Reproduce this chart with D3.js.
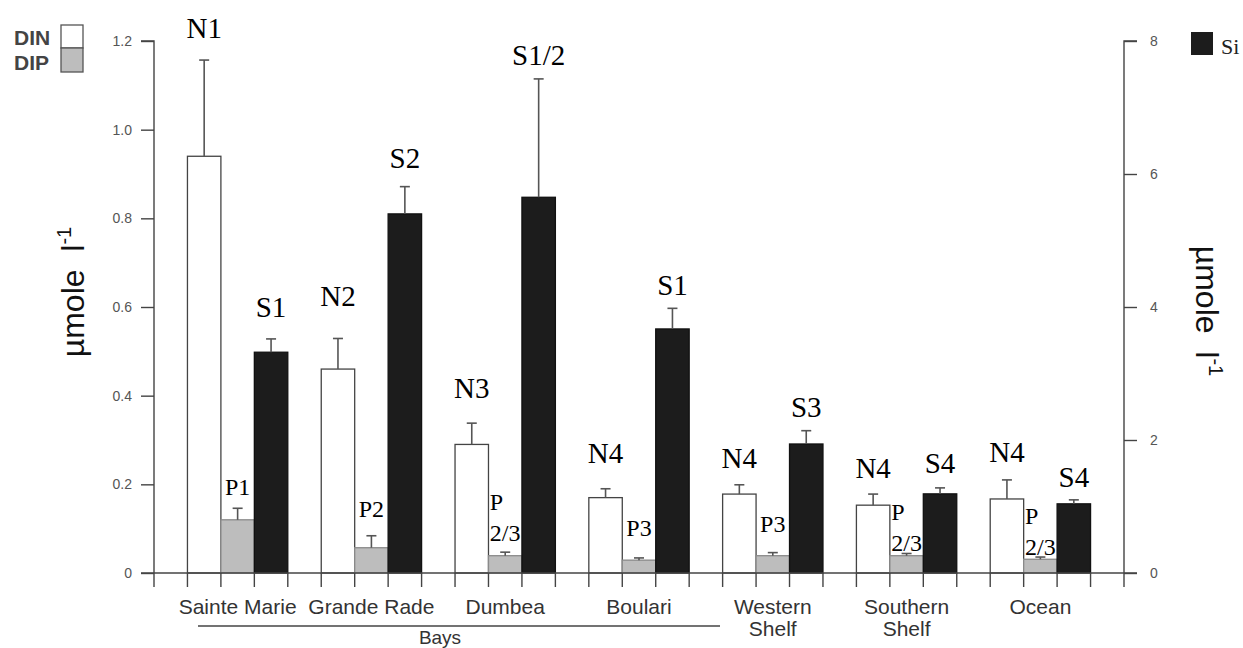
<!DOCTYPE html>
<html><head><meta charset="utf-8">
<script src="https://cdn.jsdelivr.net/npm/d3@7"></script>
<style>body{margin:0;background:#fff}svg{display:block}</style>
</head><body>
<script>
// ---- data ----
const categories = ["Sainte Marie","Grande Rade","Dumbea","Boulari","Western\nShelf","Southern\nShelf","Ocean"];
const din    = [0.94, 0.46, 0.29, 0.17, 0.178, 0.153, 0.167];
const dinErr = [0.217, 0.069, 0.048, 0.02, 0.021, 0.025, 0.043];
const dip    = [0.12, 0.057, 0.039, 0.029, 0.039, 0.039, 0.031];
const dipErr = [0.026, 0.027, 0.008, 0.005, 0.007, 0.005, 0.005];
const si     = [3.32, 5.40, 5.65, 3.67, 1.94, 1.19, 1.04];
const siErr  = [0.20, 0.41, 1.78, 0.31, 0.20, 0.09, 0.06];
const nLabels = ["N1","N2","N3","N4","N4","N4","N4"];
const sLabels = ["S1","S2","S1/2","S1","S3","S4","S4"];
const pLabels = ["P1","P2","P 2/3","P3","P3","P 2/3","P 2/3"];
const leftTicks = [0,0.2,0.4,0.6,0.8,1.0,1.2];
const rightTicks = [0,2,4,6,8];
const seriesNames = ["DIN","DIP","Si"];
// layout: label lift above error-bar top
const nGap = [22, 32, 25, 26, 17, 16, 18];
const sGap = [22, 19, 14, 13, 14, 15, 13];
const pGap = [13, 19, 11, 22, 21, 2, 2];

const W = 1243, H = 648;
const svg = d3.select("body").append("svg").attr("width", W).attr("height", H);

const x0 = 154, x1 = 1124, yBase = 573, yTop = 41;
const nSlots = 29;
const xs = d3.scaleBand().domain(d3.range(nSlots)).range([x0, x1]).padding(0);
const yL = d3.scaleLinear().domain([0, 1.2]).range([yBase, yTop]);
const yR = d3.scaleLinear().domain([0, 8]).range([yBase, yTop]);

const slot = (g, s) => 1 + 4 * g + s;
const axisCol = "#444";
const sans = "'Liberation Sans', Arial, sans-serif";
const serif = "'Liberation Serif', 'Times New Roman', serif";

// bars
const fills = ["#ffffff", "#bdbdbd", "#1c1c1c"];
const strokes = ["#444", "#8a8a8a", "#111"];
const series = [
  {vals: din, errs: dinErr, y: yL},
  {vals: dip, errs: dipErr, y: yL},
  {vals: si, errs: siErr, y: yR}
];
series.forEach((ser, s) => {
  const g = svg.append("g");
  g.selectAll("rect").data(ser.vals).join("rect")
    .attr("x", (d, i) => xs(slot(i, s)))
    .attr("width", xs.bandwidth())
    .attr("y", d => ser.y(d))
    .attr("height", d => yBase - ser.y(d))
    .attr("fill", fills[s]).attr("stroke", strokes[s]).attr("stroke-width", 1.3);
  const eb = svg.append("g").attr("stroke", "#555").attr("stroke-width", 1.6);
  ser.vals.forEach((v, i) => {
    const cx = xs(slot(i, s)) + xs.bandwidth() / 2;
    eb.append("line").attr("x1", cx).attr("x2", cx).attr("y1", ser.y(v)).attr("y2", ser.y(v + ser.errs[i]));
    eb.append("line").attr("x1", cx - 5).attr("x2", cx + 5).attr("y1", ser.y(v + ser.errs[i])).attr("y2", ser.y(v + ser.errs[i]));
  });
});

// x baseline with slot ticks
const ax = svg.append("g").attr("stroke", axisCol).attr("stroke-width", 1.4);
ax.append("line").attr("x1", x0 - 13).attr("x2", x1 + 13).attr("y1", yBase).attr("y2", yBase);
d3.range(nSlots + 1).forEach(k => {
  const xx = k < nSlots ? xs(k) : x1;
  ax.append("line").attr("x1", xx).attr("x2", xx).attr("y1", yBase).attr("y2", yBase + 14);
});

// left axis
const gL = svg.append("g").attr("transform", `translate(${x0},0)`)
  .call(d3.axisLeft(yL).tickValues(leftTicks).tickSize(13).tickPadding(9)
    .tickFormat(d => d === 0 ? "0" : d3.format(".1f")(d)));
gL.select(".domain").attr("d", `M-13,${yTop}H0V${yBase}`).attr("stroke", axisCol).attr("stroke-width", 1.4);
gL.selectAll(".tick line").attr("stroke", axisCol).attr("stroke-width", 1.4);
gL.selectAll(".tick text").attr("font-family", sans).attr("font-size", 14).attr("fill", "#555");

// right axis
const gR = svg.append("g").attr("transform", `translate(${x1},0)`)
  .call(d3.axisRight(yR).tickValues(rightTicks).tickSize(13).tickPadding(13).tickFormat(d3.format("d")));
gR.select(".domain").attr("d", `M13,${yTop}H0V${yBase}`).attr("stroke", axisCol).attr("stroke-width", 1.4);
gR.selectAll(".tick line").attr("stroke", axisCol).attr("stroke-width", 1.4);
gR.selectAll(".tick text").attr("font-family", sans).attr("font-size", 14).attr("fill", "#555");

// axis titles
function unitTitle(x, y, rot) {
  const t = svg.append("text").attr("transform", `translate(${x},${y}) rotate(${rot})`)
    .attr("text-anchor", "middle").attr("font-family", sans).attr("font-size", 32).attr("fill", "#111");
  t.append("tspan").text("µmole\u00a0\u00a0l");
  t.append("tspan").attr("dy", -13).attr("font-size", 20).text("-1");
}
unitTitle(84, 292, -90);
unitTitle(1196, 311, 90);

// x category labels
categories.forEach((c, i) => {
  const cx = xs(slot(i, 1)) + xs.bandwidth() / 2;
  const lines = c.split("\n");
  const t = svg.append("text").attr("text-anchor", "middle").attr("font-family", sans)
    .attr("font-size", 21).attr("fill", "#333");
  lines.forEach((ln, j) => t.append("tspan").attr("x", cx).attr("y", 614 + j * 22).text(ln));
});
// Bays bracket
svg.append("line").attr("x1", 198).attr("x2", 720).attr("y1", 626).attr("y2", 626).attr("stroke", "#444").attr("stroke-width", 1.4);
svg.append("text").attr("x", 440).attr("y", 644).attr("text-anchor", "middle").attr("font-family", sans)
  .attr("font-size", 19).attr("fill", "#333").text("Bays");

// bar annotations
categories.forEach((c, i) => {
  const cN = xs(slot(i, 0)) + xs.bandwidth() / 2;
  const cP = xs(slot(i, 1)) + xs.bandwidth() / 2;
  const cS = xs(slot(i, 2)) + xs.bandwidth() / 2;
  svg.append("text").attr("x", cN).attr("y", yL(din[i] + dinErr[i]) - nGap[i])
    .attr("text-anchor", "middle").attr("font-family", serif).attr("font-size", 29).text(nLabels[i]);
  svg.append("text").attr("x", cS).attr("y", yR(si[i] + siErr[i]) - sGap[i])
    .attr("text-anchor", "middle").attr("font-family", serif).attr("font-size", 29).text(sLabels[i]);
  const py = yL(dip[i] + dipErr[i]) - pGap[i];
  const parts = pLabels[i].split(" ");
  if (parts.length === 1) {
    svg.append("text").attr("x", cP).attr("y", py).attr("text-anchor", "middle")
      .attr("font-family", serif).attr("font-size", 24).text(parts[0]);
  } else {
    const t2 = svg.append("text").attr("x", cP).attr("y", py).attr("text-anchor", "middle")
      .attr("font-family", serif).attr("font-size", 24).text(parts[1]);
    const w = t2.node().getComputedTextLength();
    svg.append("text").attr("x", cP - w / 2).attr("y", py - 31)
      .attr("font-family", serif).attr("font-size", 24).text(parts[0]);
  }
});

// legends
const lg = svg.append("g");
lg.append("rect").attr("x", 61).attr("y", 25).attr("width", 22).attr("height", 23).attr("fill", fills[0]).attr("stroke", "#555").attr("stroke-width", 1.3);
lg.append("rect").attr("x", 61).attr("y", 48).attr("width", 22).attr("height", 24).attr("fill", fills[1]).attr("stroke", "#555").attr("stroke-width", 1.3);
lg.append("text").attr("x", 14).attr("y", 45).attr("font-family", sans).attr("font-size", 21).attr("font-weight", "bold").attr("fill", "#444").text(seriesNames[0]);
lg.append("text").attr("x", 14).attr("y", 70).attr("font-family", sans).attr("font-size", 21).attr("font-weight", "bold").attr("fill", "#444").text(seriesNames[1]);
lg.append("rect").attr("x", 1191).attr("y", 32).attr("width", 22).attr("height", 23).attr("fill", fills[2]);
lg.append("text").attr("x", 1221).attr("y", 54).attr("font-family", serif).attr("font-size", 22).attr("fill", "#222").text(seriesNames[2]);
</script>
</body></html>
